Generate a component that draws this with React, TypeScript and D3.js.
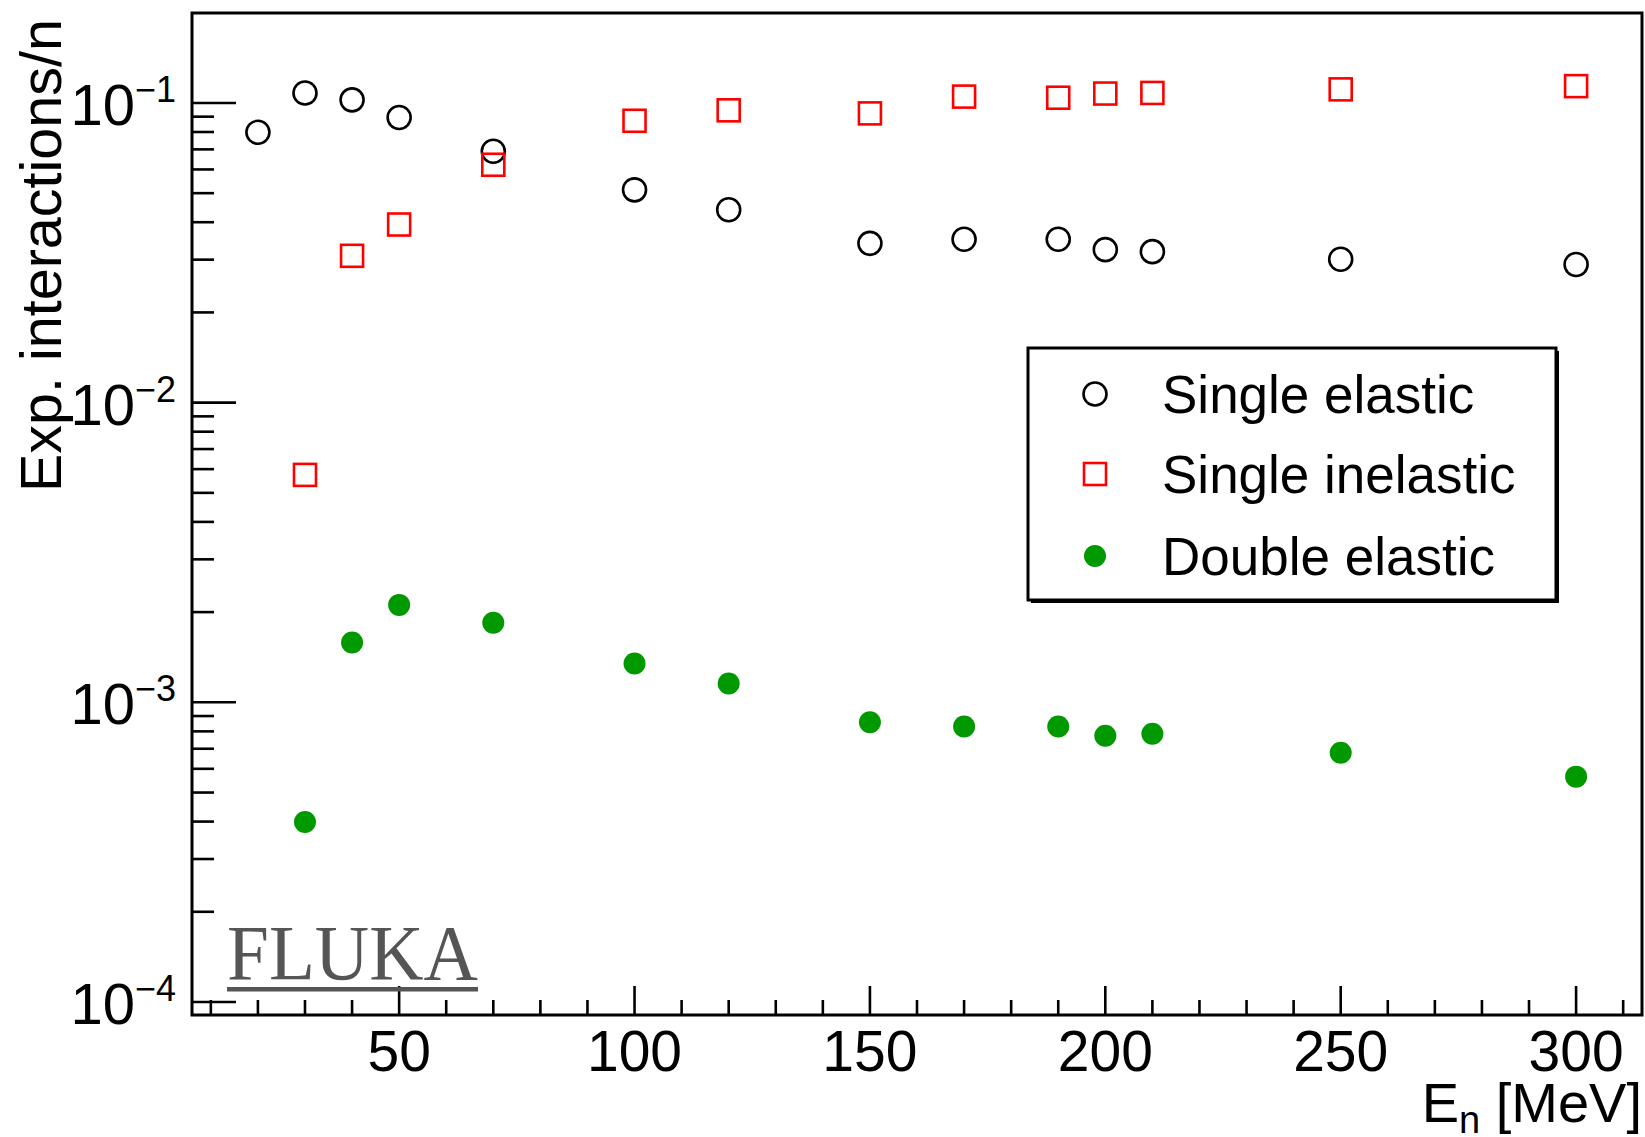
import React from "react";
import * as d3 from "d3";

const energies = [20, 30, 40, 50, 70, 100, 120, 150, 170, 190, 200, 210, 250, 300];
const singleElastic = [0.0798, 0.108, 0.1024, 0.0894, 0.069, 0.0513, 0.044, 0.034, 0.0351, 0.0351, 0.0324, 0.0319, 0.0301, 0.0289];
const inelEnergies = [30, 40, 50, 70, 100, 120, 150, 170, 190, 200, 210, 250, 300];
const singleInelastic = [0.00574, 0.0309, 0.0393, 0.0622, 0.0872, 0.0945, 0.0923, 0.105, 0.1041, 0.1075, 0.108, 0.111, 0.1138];
const dblEnergies = [30, 40, 50, 70, 100, 120, 150, 170, 190, 200, 210, 250, 300];
const doubleElastic = [0.000399, 0.001583, 0.002114, 0.001844, 0.001347, 0.001156, 0.000858, 0.000831, 0.000831, 0.000773, 0.000786, 0.000679, 0.000565];

const xMajorTicks = [50, 100, 150, 200, 250, 300];
const yDecades = [-1, -2, -3, -4];
const legendLabels = ["Single elastic", "Single inelastic", "Double elastic"];

const W = 1645, H = 1137;
const L = 192, R = 1642, T = 13, B = 1015;
const SANS = "'Liberation Sans', Arial, Helvetica, sans-serif";

export default function App() {
  const x = d3.scaleLinear().domain([6, 314]).range([L, R]);
  const y = d3.scaleLog().domain([9.05e-5, 0.1996]).range([B, T]);

  const xMinor = d3.range(10, 314, 10).filter((v) => v % 50 !== 0);
  const yMinor: number[] = [];
  for (let e = -5; e <= -1; e++) {
    for (let m = 2; m <= 9; m++) {
      const v = m * Math.pow(10, e);
      if (v > 9.05e-5 && v < 0.1996) yMinor.push(v);
    }
  }

  const stroke = "#000";
  const circ = (cx: number, cy: number, k: string) => (
    <circle key={k} cx={cx} cy={cy} r={11.5} fill="none" stroke="#000" strokeWidth={2.6} />
  );
  const sq = (cx: number, cy: number, k: string) => (
    <rect key={k} x={cx - 11} y={cy - 11} width={22} height={22} fill="none" stroke="#ff0000" strokeWidth={2.6} />
  );
  const dot = (cx: number, cy: number, k: string) => (
    <circle key={k} cx={cx} cy={cy} r={11} fill="#009900" />
  );

  const legendRows = [394, 474, 556];

  return (
    <svg width={W} height={H} style={{ position: "absolute", left: 0, top: 0, background: "#fff" }}>
      <rect x={0} y={0} width={W} height={H} fill="#fff" />
      {/* frame */}
      <rect x={L} y={T} width={R - L} height={B - T} fill="none" stroke={stroke} strokeWidth={3} />
      {/* x ticks */}
      {xMajorTicks.map((v) => (
        <line key={"xM" + v} x1={x(v)} x2={x(v)} y1={B} y2={B - 29} stroke={stroke} strokeWidth={2.6} />
      ))}
      {xMinor.map((v) => (
        <line key={"xm" + v} x1={x(v)} x2={x(v)} y1={B} y2={B - 15} stroke={stroke} strokeWidth={2.6} />
      ))}
      {xMajorTicks.map((v) => (
        <text key={"xl" + v} x={x(v)} y={1071} textAnchor="middle" fontFamily={SANS} fontSize={57}>{v}</text>
      ))}
      {/* y ticks */}
      {yDecades.map((e) => (
        <line key={"yM" + e} x1={L} x2={L + 44} y1={y(Math.pow(10, e))} y2={y(Math.pow(10, e))} stroke={stroke} strokeWidth={2.6} />
      ))}
      {yMinor.map((v, i) => (
        <line key={"ym" + i} x1={L} x2={L + 22} y1={y(v)} y2={y(v)} stroke={stroke} strokeWidth={2.6} />
      ))}
      {yDecades.map((e) => (
        <text key={"yl" + e} x={176} y={y(Math.pow(10, e)) + 22} textAnchor="end" fontFamily={SANS} fontSize={58}>
          10<tspan fontSize={36} dy={-23}>{"\u2212" + Math.abs(e)}</tspan>
        </text>
      ))}
      {/* axis titles */}
      <text x={1642} y={1122} textAnchor="end" fontFamily={SANS} fontSize={56}>
        E<tspan fontSize={38} dy={11}>n</tspan><tspan dy={-11}>{" [MeV]"}</tspan>
      </text>
      <text transform={`translate(61,19) rotate(-90)`} textAnchor="end" fontFamily={SANS} fontSize={57.5}>
        Exp. interactions/n
      </text>
      {/* FLUKA */}
      <text x={227} y={979} fontFamily="'Liberation Serif', 'Times New Roman', serif" fontSize={78} fill="#555" textLength={251} lengthAdjust="spacingAndGlyphs">FLUKA</text>
      <rect x={227} y={987} width={251} height={4.5} fill="#555" />
      {/* data */}
      {energies.map((e, i) => circ(x(e), y(singleElastic[i]), "se" + i))}
      {inelEnergies.map((e, i) => sq(x(e), y(singleInelastic[i]), "si" + i))}
      {dblEnergies.map((e, i) => dot(x(e), y(doubleElastic[i]), "de" + i))}
      {/* legend */}
      <rect x={1031} y={351} width={528} height={252} fill="#000" />
      <rect x={1028} y={348} width={528} height={252} fill="#fff" stroke="#000" strokeWidth={3} />
      {circ(1095, legendRows[0], "lg0")}
      {sq(1095, legendRows[1], "lg1")}
      {dot(1095, legendRows[2], "lg2")}
      {legendLabels.map((t, i) => (
        <text key={"lt" + i} x={1162} y={legendRows[i] + 19} fontFamily={SANS} fontSize={53}>{t}</text>
      ))}
    </svg>
  );
}
